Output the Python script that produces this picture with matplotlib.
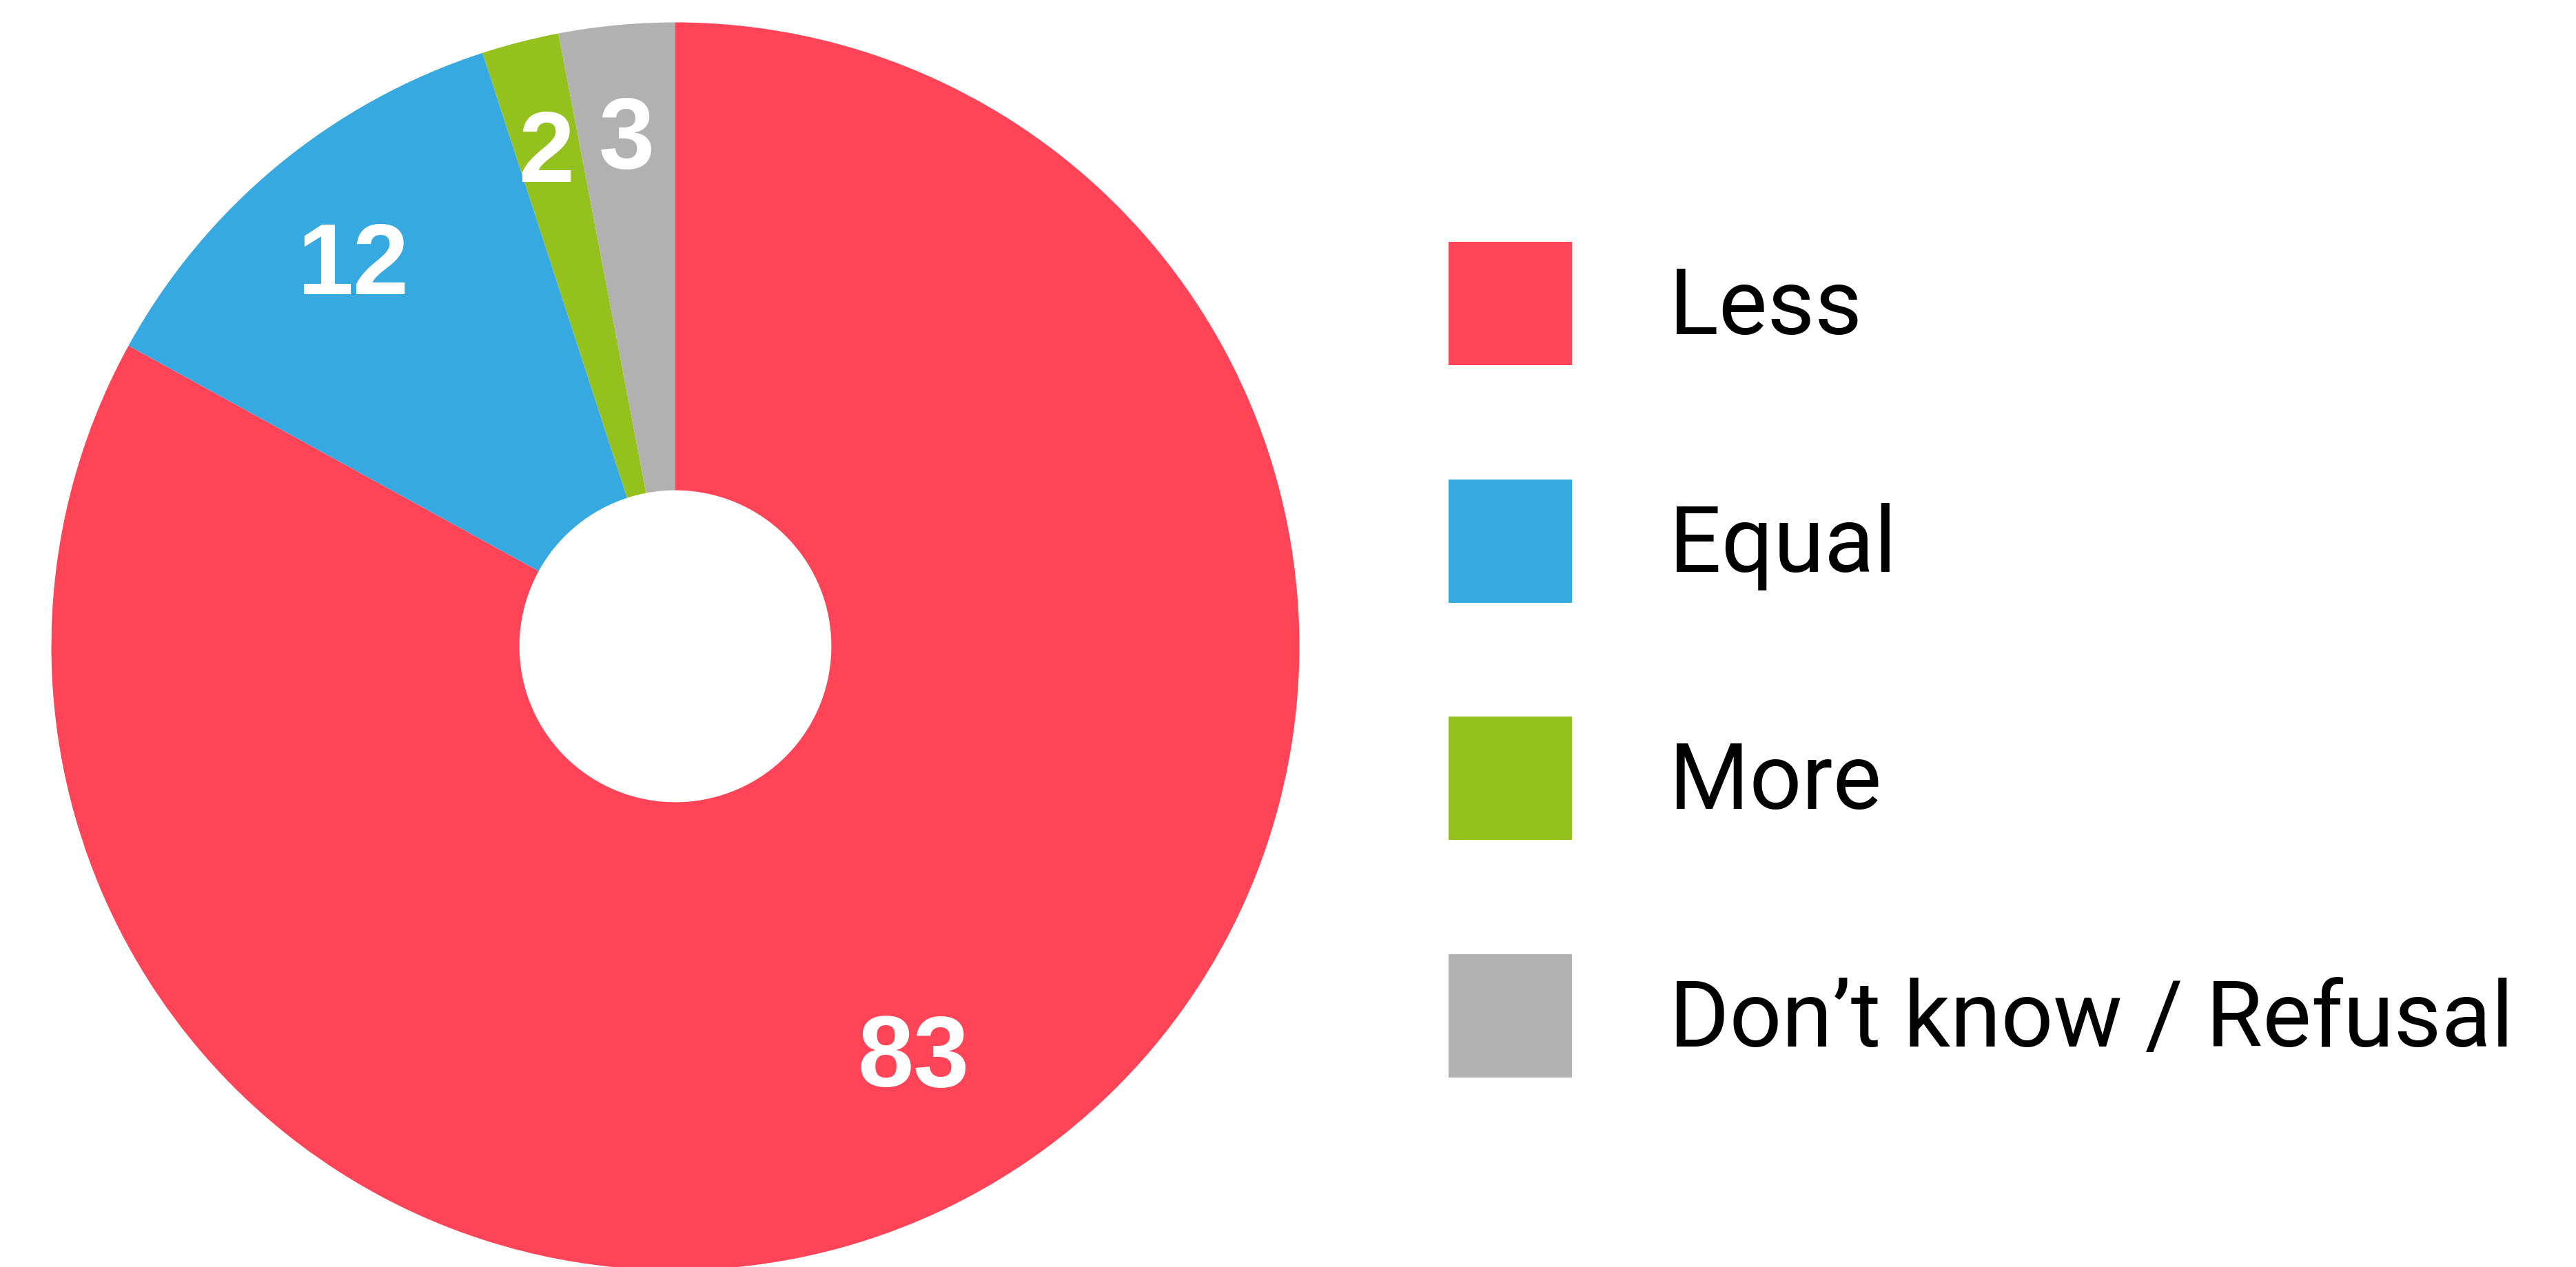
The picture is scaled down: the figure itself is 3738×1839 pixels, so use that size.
import matplotlib.pyplot as plt
import numpy as np

labels = ["Less", "Equal", "More", "Don\u2019t know / Refusal"]
values = [83, 12, 2, 3]
colors = ["#FF4457", "#37A9E1", "#95C11E", "#B1B1B1"]
label_dist = [0.75, 0.81, 0.83, 0.83]


def main():
    fig = plt.figure(figsize=(37.38, 18.40), dpi=100)
    fig.patch.set_facecolor("white")

    # square axes: donut centre at (980, 939) px, outer radius ~905 px
    W, H = 3738, 1840
    R = 905.5
    cx, cy = 980, H - 939
    ax = fig.add_axes([(cx - R) / W, (cy - R) / H, 2 * R / W, 2 * R / H])

    wedges, _ = ax.pie(values, colors=colors, startangle=90, counterclock=False,
                       radius=1.0, wedgeprops=dict(width=0.75, linewidth=0))
    ax.set_xlim(-1, 1)
    ax.set_ylim(-1, 1)
    ax.set_aspect("auto")
    ax.axis("off")

    for w, v, d in zip(wedges, values, label_dist):
        mid = np.deg2rad((w.theta1 + w.theta2) / 2)
        ax.text(d * np.cos(mid), d * np.sin(mid), str(v), color="white",
                fontsize=105, fontweight="bold", family="Liberation Sans",
                ha="center", va="center_baseline")

    leg = fig.legend(wedges, labels, loc="center left",
                     bbox_to_anchor=(2102 / W, 1 - 958.5 / H),
                     frameon=False, borderpad=0, borderaxespad=0,
                     prop=dict(family="Roboto", size=96),
                     handlelength=179 / 133.3, handleheight=1.69,
                     handletextpad=1.06, labelspacing=1.24)
    for t in leg.get_texts():
        t.set_color("black")

    fig.savefig("out.png", dpi=100, facecolor="white")


if __name__ == "__main__":
    main()
